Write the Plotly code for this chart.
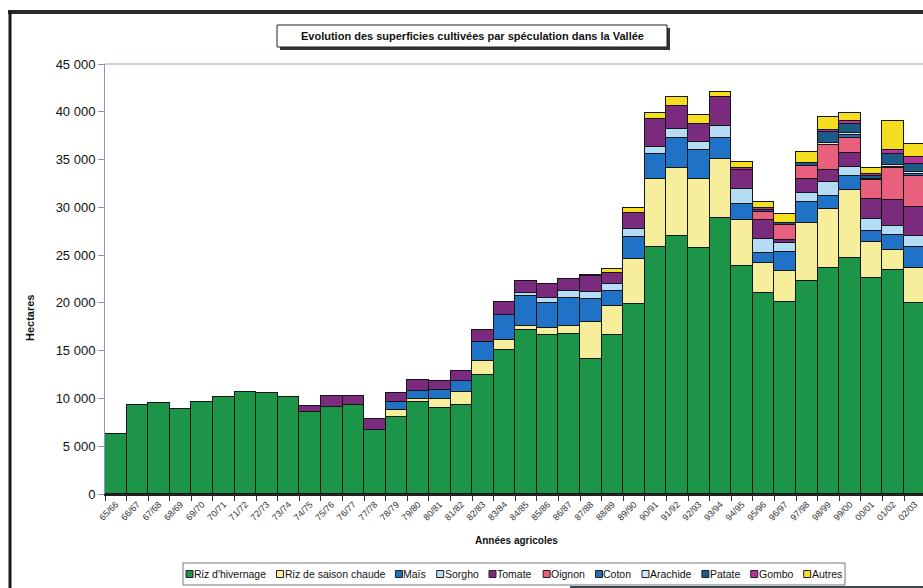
import plotly.graph_objects as go

categories = ["65/66","66/67","67/68","68/69","69/70","70/71","71/72","72/73","73/74","74/75",
              "75/76","76/77","77/78","78/79","79/80","80/81","81/82","82/83","83/84","84/85",
              "85/86","86/87","87/88","88/89","89/90","90/91","91/92","92/93","93/94","94/95",
              "95/96","96/97","97/98","98/99","99/00","00/01","01/02","02/03"]

riz_hivernage = [6300,9350,9550,8850,9600,10100,10650,10550,10150,8600,
                 9150,9300,6750,8100,9650,9050,9300,12450,15050,17150,
                 16600,16750,14150,16650,19850,25900,26950,25700,28850,23850,
                 21050,20100,22300,23600,24750,22650,23450,20000]
riz_saison_chaude = [0,0,0,0,0,0,0,0,0,0,
                     0,0,0,700,250,900,1350,1450,1100,400,
                     800,850,3800,3050,4750,7100,7150,7250,6200,4850,
                     3150,3250,6100,6250,7100,3750,2050,3650]
mais = [0,0,0,0,0,0,0,0,0,0,
        0,0,0,850,900,900,1200,2050,2600,3150,
        2600,2950,2500,1500,2250,2600,3200,3100,2250,1600,
        1050,1950,2200,1350,1450,1150,1600,2250]
sorgho = [0,0,0,0,0,0,0,0,0,0,
          0,0,0,0,0,0,0,0,0,300,
          500,700,700,800,850,700,850,800,1200,1650,
          1400,1000,950,1400,900,1250,950,1150]
tomate = [0,0,0,0,0,0,0,0,0,650,
          1100,1000,1150,950,1150,1000,1000,1250,1300,1300,
          1450,1300,1650,1150,1750,2950,2500,1900,3050,2000,
          2000,300,1400,1300,1450,2050,2700,2950]
oignon = [0,0,0,0,0,0,0,0,0,0,
          0,0,0,0,0,0,0,0,0,0,
          0,0,0,0,0,0,0,0,0,0,
          850,1550,1400,2650,1650,2000,3350,3300]
coton = [0]*34 + [300,150,150,150]
arachide = [0]*33 + [200,200,0,150,250]
patate = [0]*30 + [200,250,300,1150,900,250,1200,800]
gombo = [0]*29 + [200,250,0,0,200,300,250,400,800]
autres = [0,0,0,0,0,0,0,0,0,0,
          0,0,0,0,0,0,0,0,0,0,
          0,0,150,400,450,600,850,950,500,600,
          650,900,1150,1400,850,600,3050,1300]

series_names = ["Riz d'hivernage","Riz de saison chaude","Maïs","Sorgho","Tomate","Oignon",
                "Coton","Arachide","Patate","Gombo","Autres"]
series_values = [riz_hivernage, riz_saison_chaude, mais, sorgho, tomate, oignon,
                 coton, arachide, patate, gombo, autres]
series_colors = ["#1d9548","#f7ee9c","#1f72c6","#b4dcf4","#7a2b7e","#e8607c",
                 "#2a6cb5","#cfe7f7","#1d5b87","#b7339a","#f5dd1f"]

y_ticks = list(range(0, 45001, 5000))
y_ticktext = [f"{v:,}".replace(",", " ") for v in y_ticks]

W, H = 923, 588
L, R, T, B = 105, 0, 64, 94
PW, PH = W - L - R, H - T - B

def px(x):
    return (x - L) / PW

def py(y):
    return (H - B - y) / PH

FONT = "Liberation Sans, Arial, sans-serif"

fig = go.Figure()
for name, vals, col in zip(series_names, series_values, series_colors):
    fig.add_trace(go.Bar(x=categories, y=vals, name=name,
                         marker=dict(color=col, line=dict(color="#151515", width=1))))

shapes = []
annotations = []

# frame lines (scanned border)
shapes.append(dict(type="line", xref="paper", yref="paper", x0=px(8), x1=px(923), y0=py(12), y1=py(12),
                   line=dict(color="#2a2a2a", width=4)))
shapes.append(dict(type="line", xref="paper", yref="paper", x0=px(10), x1=px(10), y0=py(11), y1=py(588),
                   line=dict(color="#1a1a1a", width=3)))
# plot area top border
shapes.append(dict(type="line", xref="paper", yref="paper", x0=0, x1=1, y0=1, y1=1,
                   line=dict(color="#98a2c8", width=1)))

# title box with shadow
shapes.append(dict(type="rect", xref="paper", yref="paper", x0=px(280), x1=px(670), y0=py(28), y1=py(50),
                   fillcolor="#333333", line=dict(width=0), layer="above"))
shapes.append(dict(type="rect", xref="paper", yref="paper", x0=px(277), x1=px(667), y0=py(25), y1=py(47),
                   fillcolor="white", line=dict(color="#222", width=1), layer="above"))
annotations.append(dict(xref="paper", yref="paper", x=px(472), y=py(36), showarrow=False,
                        text="<b>Evolution des superficies cultivées par spéculation dans la Vallée</b>",
                        font=dict(family=FONT, size=11, color="#111"), xanchor="center", yanchor="middle"))

# axis titles
annotations.append(dict(xref="paper", yref="paper", x=px(30), y=py(318), showarrow=False, textangle=-90,
                        text="<b>Hectares</b>", font=dict(family=FONT, size=11, color="#111"),
                        xanchor="center", yanchor="middle"))
annotations.append(dict(xref="paper", yref="paper", x=px(516), y=py(540), showarrow=False,
                        text="<b>Années agricoles</b>", font=dict(family=FONT, size=10, color="#111"),
                        xanchor="center", yanchor="middle"))

# manual legend
AW = {'a':556,'b':556,'c':500,'d':556,'e':556,'f':278,'g':556,'h':556,'i':222,'j':222,'k':500,'l':222,
      'm':833,'n':556,'o':556,'p':556,'q':556,'r':333,'s':500,'t':278,'u':556,'v':500,'w':722,'x':500,
      'y':500,'z':500,' ':278,"'":191,'R':722,'M':833,'S':667,'T':611,'O':778,'C':722,'A':667,'P':667,
      'G':778,'ï':278}
def tw(s, size):
    return sum(AW.get(ch, 556) for ch in s) / 1000 * size

LFS = 10.5
ly = 574
shapes.append(dict(type="rect", xref="paper", yref="paper", x0=px(183), x1=px(845), y0=py(563), y1=py(585),
                   fillcolor="white", line=dict(color="#777", width=1), layer="below"))
shapes.append(dict(type="rect", xref="paper", yref="paper", x0=px(570), x1=px(923), y0=py(586), y1=py(588),
                   fillcolor="#3b4a50", line=dict(width=0)))
cx = 186
for name, col in zip(series_names, series_colors):
    shapes.append(dict(type="rect", xref="paper", yref="paper", x0=px(cx), x1=px(cx + 7),
                       y0=py(ly - 3.5), y1=py(ly + 3.5), fillcolor=col, line=dict(color="#222", width=1)))
    annotations.append(dict(xref="paper", yref="paper", x=px(cx + 8), y=py(ly), showarrow=False,
                            text=name, font=dict(family=FONT, size=LFS, color="#111"),
                            xanchor="left", yanchor="middle", xshift=-2))
    cx += 8 + tw(name, LFS) + 10.5

fig.update_layout(
    width=W, height=H,
    margin=dict(l=L, r=R, t=T, b=B, pad=0),
    paper_bgcolor="white", plot_bgcolor="white",
    barmode="stack", bargap=0,
    showlegend=False,
    font=dict(family=FONT, color="#111"),
    shapes=shapes, annotations=annotations,
    xaxis=dict(type="category", range=[-0.5, 37.38], tickangle=-45,
               tickfont=dict(family=FONT, size=9, color="#333"),
               ticks="outside", tickson="boundaries", ticklen=5, tickcolor="#333",
               showline=True, linecolor="#222", linewidth=1.5, showgrid=False, automargin=False),
    yaxis=dict(range=[0, 45000], tickvals=y_ticks, ticktext=y_ticktext,
               tickfont=dict(family=FONT, size=13, color="#111"),
               ticks="outside", ticklen=6, tickcolor="#8a96c0",
               showline=True, linecolor="#8a96c0", linewidth=1, showgrid=False, zeroline=False,
               automargin=False),
)

fig.write_html("out.html")
